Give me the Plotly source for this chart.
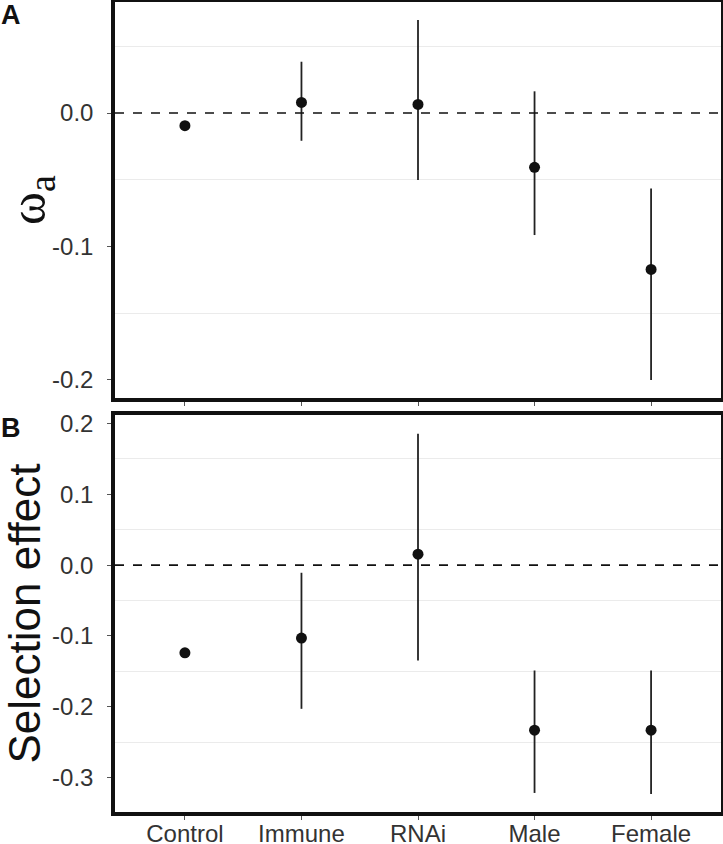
import plotly.graph_objects as go
from plotly.subplots import make_subplots

# data
groups = ["Control", "Immune", "RNAi", "Male", "Female"]

omega_mean = [-0.0095, 0.008, 0.0065, -0.0407, -0.1173]
omega_low = [-0.0125, -0.0208, -0.0503, -0.0915, -0.2003]
omega_high = [-0.0065, 0.0385, 0.0698, 0.0163, -0.0565]

sel_mean = [-0.1237, -0.103, 0.0155, -0.233, -0.233]
sel_low = [-0.1250, -0.2028, -0.1346, -0.3215, -0.323]
sel_high = [-0.1224, -0.0108, 0.1855, -0.1487, -0.1487]

# constants
FONT = "Liberation Sans, Arial, sans-serif"
TICK_COLOR = "#333333"
GRID_COLOR = "#ebebeb"

fig = make_subplots(rows=2, cols=1, shared_xaxes=False, vertical_spacing=0.02)


def add_panel(row, mean, low, high):
    fig.add_trace(go.Scatter(
        x=groups, y=mean, mode="markers",
        marker=dict(color="#111111", size=11),
        error_y=dict(type="data", symmetric=False,
                     array=[h - m for h, m in zip(high, mean)],
                     arrayminus=[m - l for m, l in zip(mean, low)],
                     color="#222222", thickness=1.8, width=0),
        showlegend=False,
    ), row=row, col=1)
    # dashed zero line
    fig.add_hline(y=0, line=dict(color="#111111", width=1.6, dash="dash"), row=row, col=1)


add_panel(1, omega_mean, omega_low, omega_high)
add_panel(2, sel_mean, sel_low, sel_high)

axis_common = dict(showline=True, linecolor="#111111", linewidth=3.5, mirror=True,
                   ticks="outside", ticklen=4, tickcolor="#555555", tickwidth=1,
                   tickfont=dict(family=FONT, size=24, color=TICK_COLOR),
                   zeroline=False, automargin=False)

fig.update_xaxes(axis_common, showgrid=False, range=[-0.6, 4.6])
fig.update_xaxes(showticklabels=False, row=1, col=1)
fig.update_xaxes(ticklabelstandoff=-7, row=2, col=1)

fig.update_yaxes(axis_common, showgrid=False, ticklabelstandoff=9,
                 minor=dict(showgrid=True, gridcolor=GRID_COLOR, gridwidth=1, tick0=0.05, dtick=0.1))
fig.update_yaxes(range=[-0.2138, 0.0833], tickvals=[0.0, -0.1, -0.2],
                 ticktext=["0.0", "-0.1", "-0.2"],
                 title=dict(text="ω<sub><span style='font-size:38px'>a</span></sub>", standoff=38,
                            font=dict(family="Liberation Serif, serif", size=50, color="#111111")),
                 row=1, col=1)
fig.update_yaxes(range=[-0.3484, 0.2117], tickvals=[0.2, 0.1, 0.0, -0.1, -0.2, -0.3],
                 ticktext=["0.2", "0.1", "0.0", "-0.1", "-0.2", "-0.3"],
                 title=dict(text="Selection effect", standoff=1,
                            font=dict(family=FONT, size=44, color="#111111")),
                 row=2, col=1)

fig.update_layout(
    width=723, height=844,
    margin=dict(l=115, r=2, t=2, b=32),
    plot_bgcolor="white", paper_bgcolor="white",
    yaxis=dict(domain=[0.511, 1.0]),
    yaxis2=dict(domain=[0.0, 0.490]),
    annotations=[
        dict(text="<b>A</b>", x=0, y=1.0, xref="paper", yref="paper", xanchor="left", yanchor="top",
             xshift=-116, yshift=4, showarrow=False, font=dict(family=FONT, size=27, color="#111111")),
        dict(text="<b>B</b>", x=0, y=0.490, xref="paper", yref="paper", xanchor="left", yanchor="top",
             xshift=-116, yshift=4, showarrow=False, font=dict(family=FONT, size=27, color="#111111")),
    ],
)

# page body has an 8px default margin; drop it so the figure fills the window
fig.write_html("out.html", config={"displayModeBar": False},
               post_script="document.body.style.margin='0';")
